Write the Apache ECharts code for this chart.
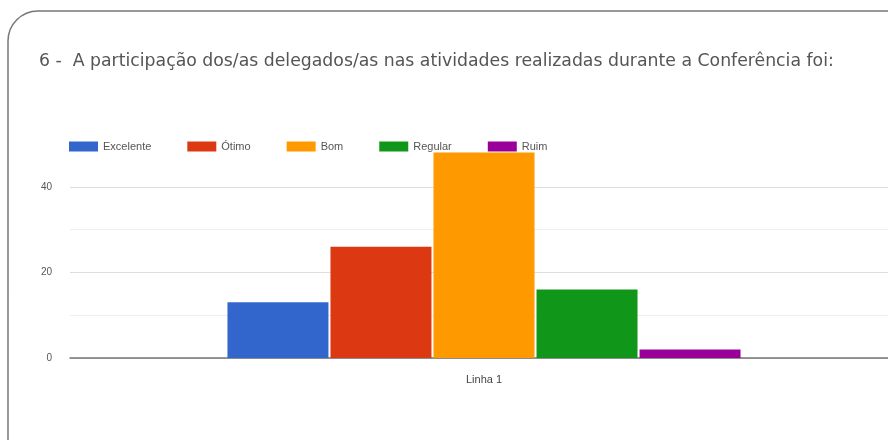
<!DOCTYPE html>
<html>
<head>
<meta charset="utf-8">
<script src="https://cdn.jsdelivr.net/npm/echarts@6/dist/echarts.min.js"></script>
<style>
  html, body { margin: 0; padding: 0; background: #fff; }
  #chart { width: 888px; height: 440px; }
</style>
</head>
<body>
<div id="chart"></div>
<script>
const categories = ['Linha 1']
const seriesNames = ['Excelente', 'Ótimo', 'Bom', 'Regular', 'Ruim']
const seriesValues = [13, 26, 48, 16, 2]
const seriesColors = ['#3366cc', '#dc3912', '#ff9900', '#109618', '#990099']
const yTickLabels = ['0', '20', '40']

const chart = echarts.init(document.getElementById('chart'), null, { renderer: 'canvas' })

chart.setOption({
  backgroundColor: '#fff',
  animation: false,
  graphic: [
    { type: 'rect', shape: { x: 8, y: 11, width: 920, height: 460, r: 30 }, style: { fill: 'none', stroke: '#777', lineWidth: 1.5 } }
  ],
  title: {
    text: '6 -  A participação dos/as delegados/as nas atividades realizadas durante a Conferência foi:',
    left: 34, top: 48,
    textStyle: { color: '#555', fontSize: 17.3, fontWeight: 'normal', fontFamily: 'DejaVu Sans, sans-serif' }
  },
  legend: {
    left: 64, top: 136,
    itemWidth: 29, itemHeight: 10, itemGap: 36,
    icon: 'rect',
    textStyle: { color: '#555', fontSize: 11, fontFamily: 'Liberation Sans, Arial, sans-serif' },
    data: seriesNames
  },
  grid: { left: 70, width: 828, top: 144, bottom: 82, containLabel: false, outerBoundsMode: 'none' },
  xAxis: {
    type: 'category',
    data: categories,
    axisLine: { lineStyle: { color: '#777', width: 1.5 } },
    axisTick: { show: false },
    axisLabel: { color: '#444', fontSize: 11, margin: 16, fontFamily: 'Liberation Sans, Arial, sans-serif' }
  },
  yAxis: {
    type: 'value', min: 0, max: 50, interval: 10,
    axisLine: { show: false }, axisTick: { show: false },
    axisLabel: {
      color: '#555', fontSize: 10, margin: 18, fontFamily: 'Liberation Sans, Arial, sans-serif',
      formatter: (v) => yTickLabels.includes(String(v)) ? String(v) : ''
    },
    splitLine: { lineStyle: { color: ['#ccc', '#eee', '#ddd', '#eee', '#ddd', 'rgba(0,0,0,0)'], width: 1 } }
  },
  series: seriesNames.map((name, i) => ({
    name,
    type: 'bar',
    barWidth: 101,
    barGap: '2%',
    itemStyle: { color: seriesColors[i] },
    data: [seriesValues[i]]
  }))
})
</script>
</body>
</html>
